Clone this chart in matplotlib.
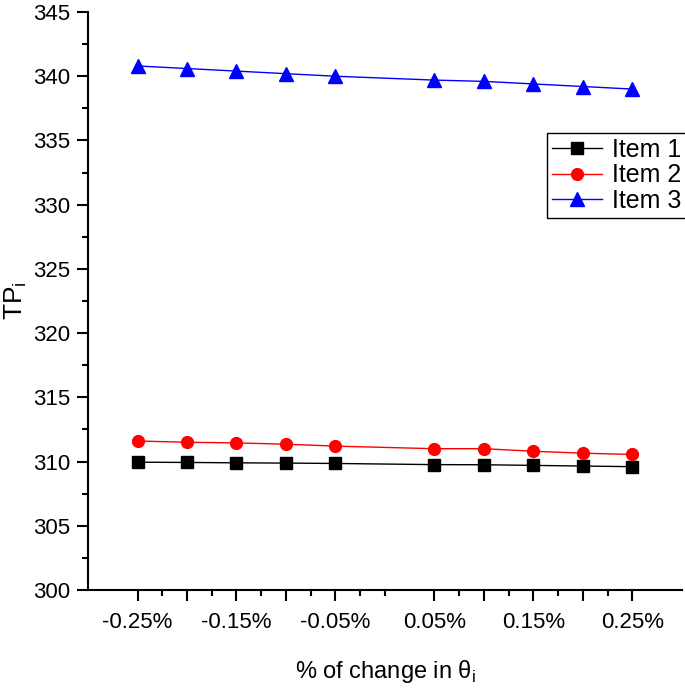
import matplotlib
matplotlib.use("Agg")
import matplotlib.pyplot as plt
from matplotlib.ticker import FixedLocator, FuncFormatter

plt.rcParams["font.family"] = ["Liberation Sans", "DejaVu Sans"]
plt.rcParams["mathtext.fontset"] = "custom"
plt.rcParams["mathtext.rm"] = "Liberation Sans"

# % change in theta_i (no 0 point)
x_change = [-0.25, -0.20, -0.15, -0.10, -0.05, 0.05, 0.10, 0.15, 0.20, 0.25]
item1 = [309.95, 309.93, 309.9, 309.88, 309.85, 309.76, 309.75, 309.7, 309.65, 309.6]
item2 = [311.6, 311.5, 311.45, 311.35, 311.2, 311.0, 311.0, 310.8, 310.65, 310.55]
item3 = [340.8, 340.6, 340.4, 340.2, 340.0, 339.7, 339.6, 339.4, 339.2, 339.0]

major_x = [-0.25, -0.20, -0.15, -0.10, -0.05, 0.05, 0.10, 0.15, 0.20, 0.25]
minor_x = [-0.225, -0.175, -0.125, -0.075, -0.025, 0.0, 0.075, 0.125, 0.175, 0.225]
labeled_x = [-0.25, -0.15, -0.05, 0.05, 0.15, 0.25]

fig = plt.figure(figsize=(6.85, 6.91), dpi=100)
ax = fig.add_axes([0.1285, 0.1462, 0.867, 0.8364])

ax.plot(x_change, item1, color="black", marker="s", markersize=8, linewidth=1, label="Item 1")
ax.plot(x_change, item2, color="red", marker="o", markersize=8.5, linewidth=1, label="Item 2")
ax.plot(x_change, item3, color="blue", marker="^", markersize=10, linewidth=1, label="Item 3")

ax.set_xlim(-0.30, 0.30)
ax.set_ylim(300, 345)

ax.xaxis.set_major_locator(FixedLocator(major_x))
ax.xaxis.set_minor_locator(FixedLocator(minor_x))


def fmt_x(v, pos):
    if any(abs(v - t) < 1e-9 for t in labeled_x):
        return f"{v:.2f}%"
    return ""


ax.xaxis.set_major_formatter(FuncFormatter(fmt_x))
ax.set_yticks(range(300, 346, 5))
ax.set_yticks([302.5 + 5 * k for k in range(9)], minor=True)

for side in ("top", "right"):
    ax.spines[side].set_visible(False)
for side in ("left", "bottom"):
    ax.spines[side].set_linewidth(1.5)

ax.tick_params(axis="both", which="major", direction="out", length=8, width=1.5,
               labelsize=16, pad=5)
ax.tick_params(axis="both", which="minor", direction="out", length=4, width=1.5)
ax.tick_params(axis="x", which="major", pad=8)

ax.set_xlabel("% of change in θ$_\\mathregular{i}$", fontsize=17, labelpad=18)
ax.set_ylabel("TP$_\\mathregular{i}$", fontsize=19)
ax.yaxis.set_label_coords(-0.1, 0.5)

leg = ax.legend(loc="upper left", bbox_to_anchor=(0.7985, 0.8075),
                bbox_transform=fig.transFigure, fontsize=18, frameon=True,
                fancybox=False, framealpha=1, edgecolor="black",
                labelspacing=0.05, handlelength=2.0, handletextpad=0.4,
                borderpad=0.2, borderaxespad=0)
leg.get_frame().set_linewidth(1)

fig.savefig("out.png", dpi=100)
